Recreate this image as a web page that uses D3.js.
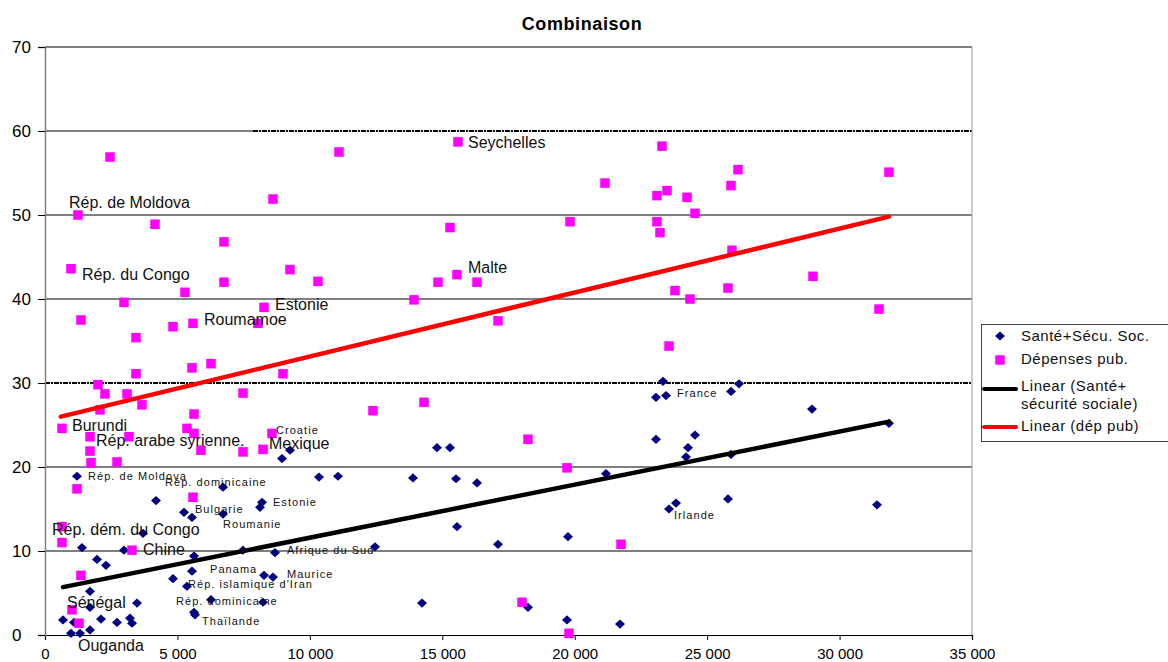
<!DOCTYPE html>
<html>
<head>
<meta charset="utf-8">
<script src="https://cdn.jsdelivr.net/npm/d3@7/dist/d3.min.js"></script>
<style>
  html, body { margin: 0; padding: 0; background: #fff; }
  svg { display: block; font-family: "Liberation Sans", Arial, sans-serif; }
</style>
</head>
<body>
<svg id="chart" width="1168" height="662"></svg>
<script>
// Santé + sécurité sociale: [PIB par habitant, %]
const santeSecu = [
  [1208,18.9],[4191,16.0],[5248,14.6],[5550,14.0],[6721,17.6],[6721,14.4],[3700,12.1],
  [1397,10.4],[2983,10.1],[1963,9.0],[2303,8.3],[1699,5.2],[3474,3.8],[1699,3.3],
  [680,1.8],[1095,1.5],[2114,1.9],[2718,1.5],[3209,2.0],[3285,1.4],[982,0.2],[1322,0.2],
  [1699,0.6],[5626,9.4],[5550,7.6],[4833,6.7],[5361,5.8],[6268,4.2],[5626,2.7],[5663,2.4],
  [7476,10.1],[8684,9.8],[8269,7.1],[8608,6.9],[8231,3.9],[8948,21.0],[9250,22.0],
  [10345,18.8],[11063,18.9],[8118,15.2],[8193,15.8],[12460,10.5],[13894,18.7],[14800,22.3],
  [15291,22.3],[15518,18.6],[16311,18.1],[15556,12.9],[17104,10.8],[19746,11.7],[21181,19.2],
  [23069,28.3],[23447,28.5],[23334,30.2],[23069,23.3],[24277,22.3],[24202,21.2],[24541,23.8],
  [25901,29.0],[26203,29.9],[25901,21.5],[25787,16.2],[23825,15.7],[23560,15.0],[14234,3.8],
  [18236,3.3],[19709,1.8],[21710,1.3],[28959,26.9],[31866,25.2],[31413,15.5]
];

// Dépenses publiques: [PIB par habitant, %]
const depensesPub = [
  [2454,56.9],[1246,50.0],[4153,48.9],[6758,46.8],[8608,51.9],[11100,57.5],[15593,58.7],
  [15291,48.5],[23296,58.2],[26165,55.4],[25901,53.5],[21143,53.8],[23107,52.3],[23485,52.9],
  [24240,52.1],[24541,50.2],[23107,49.2],[23220,47.9],[19822,49.2],[31866,55.1],[25938,45.8],
  [982,43.6],[5286,40.8],[6758,42.0],[9250,43.5],[10307,42.1],[14838,42.0],[15556,42.9],
  [16311,42.0],[13932,39.9],[8269,39.0],[8042,37.1],[5588,37.1],[4833,36.7],[2983,39.6],
  [1359,37.5],[3436,35.4],[23786,41.0],[24353,40.0],[23560,34.4],[25787,41.3],[28997,42.7],
  [31489,38.8],[17104,37.4],[3436,31.1],[5550,31.8],[6268,32.3],[8986,31.1],[2001,29.8],
  [2265,28.7],[3096,28.7],[3662,27.4],[7476,28.8],[12384,26.7],[14310,27.7],[2077,26.8],
  [642,24.6],[1699,23.6],[3172,23.6],[1699,21.9],[1737,20.5],[2718,20.6],[1208,17.4],
  [5361,24.6],[5626,26.3],[5626,24.0],[5890,22.0],[5588,16.4],[642,12.9],[642,11.0],
  [3285,10.1],[1359,7.1],[1019,3.0],[1284,1.4],[7476,21.8],[8231,22.1],[8571,24.0],
  [18236,23.3],[19709,19.9],[21748,10.8],[18010,3.9],[19784,0.2]
];

// Linear trends (start and end of each fitted line)
const trendSante = [[680,5.7],[31866,25.4]];
const trendDepenses = [[600,26.0],[31866,49.8]];

// Country annotations: [text, x, y] at the start of the text baseline
const labelsLarge = [
  ["Rép. de Moldova",906,50.8],["Rép. du Congo",1397,42.3],["Roumamoe",6003,36.9],
  ["Estonie",8684,38.7],["Seychelles",15971,58.0],["Malte",15971,43.1],["Burundi",1019,24.3],
  ["Rép. arabe syrienne.",1926,22.5],["Mexique",8457,22.1],["Rép. dém. du Congo",264,11.9],
  ["Chine",3700,9.5],["Sénégal",831,3.2],["Ouganda",1246,-1.9]
];
const labelsSmall = [
  ["Croatie",8722,23.9],["Rép. de Moldova",1624,18.5],["Rép. dominicaine",4531,17.7],
  ["Bulgarie",5663,14.5],["Estonie",8608,15.4],["Roumanie",6721,12.7],["Afrique du Sud",9137,9.6],
  ["Panama",6230,7.4],["Maurice",9137,6.8],["Rép. islamique d'Iran",5399,5.6],
  ["Rép. dominicaine",4946,3.6],["Thaïlande",5928,1.2],["France",23862,28.3],["Irlande",23749,13.8]
];

const xTicks = [0,5000,10000,15000,20000,25000,30000,35000];
const yTicks = [0,10,20,30,40,50,60,70];
const title = "Combinaison";
const legendItems = ["Santé+Sécu. Soc.","Dépenses pub.","Linear (Santé+","sécurité sociale)","Linear (dép pub)"];

const svg = d3.select("#chart");
const x = d3.scaleLinear().domain([0,35000]).range([45,972]);
const y = d3.scaleLinear().domain([0,70]).range([635,47]);
const fmt = v => v === 0 ? "0" : d3.format(",")(v).replace(/,/g," ");

// title
svg.append("text").attr("x",582).attr("y",30).attr("text-anchor","middle")
  .attr("font-size",18).attr("letter-spacing",0.6).attr("font-weight","bold").text(title);

// horizontal grid lines
const grid = svg.append("g");
yTicks.filter(v => v > 0 && v < 70).forEach(v => {
  if (v === 30) {
    grid.append("line").attr("x1",x(0)).attr("x2",x(35000)).attr("y1",y(v)).attr("y2",y(v))
      .attr("stroke","#000").attr("stroke-width",2).attr("stroke-dasharray","5,1,2,1");
  } else if (v === 60) {
    const split = 7850;
    grid.append("line").attr("x1",x(0)).attr("x2",x(split)).attr("y1",y(v)).attr("y2",y(v))
      .attr("stroke","#000").attr("stroke-width",1.2);
    grid.append("line").attr("x1",x(split)).attr("x2",x(35000)).attr("y1",y(v)).attr("y2",y(v))
      .attr("stroke","#000").attr("stroke-width",2).attr("stroke-dasharray","5,1,2,1");
  } else {
    grid.append("line").attr("x1",x(0)).attr("x2",x(35000)).attr("y1",y(v)).attr("y2",y(v))
      .attr("stroke","#000").attr("stroke-width",1.2);
  }
});
// top border of the plot area
svg.append("line").attr("x1",x(0)).attr("x2",x(35000)).attr("y1",y(70)).attr("y2",y(70))
  .attr("stroke","#555").attr("stroke-width",1.5);
// right border
svg.append("line").attr("x1",x(35000)).attr("x2",x(35000)).attr("y1",y(70)).attr("y2",y(0))
  .attr("stroke","#999").attr("stroke-width",1);

// axes
const xAxis = svg.append("g").attr("transform",`translate(0,${y(0)})`)
  .call(d3.axisBottom(x).tickValues(xTicks).tickFormat(fmt).tickSizeOuter(0).tickSize(5).tickPadding(8));
xAxis.select(".domain").attr("stroke","#000").attr("stroke-width",1.2);
xAxis.selectAll("line").attr("stroke","#000");
xAxis.selectAll("text").attr("font-size",15).attr("fill","#000")
  .attr("font-family","Liberation Sans, Arial, sans-serif");

const yAxis = svg.append("g").attr("transform",`translate(${x(0)},0)`)
  .call(d3.axisLeft(y).tickValues(yTicks).tickFormat(d3.format("d")).tickSizeOuter(0).tickSize(7));
yAxis.select(".domain").attr("stroke","#808080").attr("stroke-width",1.5);
yAxis.selectAll("line").attr("stroke","#000");
yAxis.selectAll("text").attr("font-size",17).attr("fill","#000")
  .attr("text-anchor","start").attr("x",12 - x(0))
  .attr("font-family","Liberation Sans, Arial, sans-serif");

// markers: navy diamonds and magenta squares
const diamondPath = "M0,-4.6L5,0L0,4.6L-5,0Z";
svg.append("g").selectAll("path").data(santeSecu).join("path")
  .attr("d",diamondPath).attr("transform",d => `translate(${x(d[0])},${y(d[1])})`)
  .attr("fill","#000080");
const sq = 9.5;
svg.append("g").selectAll("rect").data(depensesPub).join("rect")
  .attr("x",d => x(d[0]) - sq/2).attr("y",d => y(d[1]) - sq/2)
  .attr("width",sq).attr("height",sq).attr("fill","#FF00FF");

// trend lines
const line = d3.line().x(d => x(d[0])).y(d => y(d[1]));
svg.append("path").datum(trendSante).attr("d",line).attr("stroke","#000")
  .attr("stroke-width",4.5).attr("fill","none").attr("stroke-linecap","round");
svg.append("path").datum(trendDepenses).attr("d",line).attr("stroke","#FF0000")
  .attr("stroke-width",4.5).attr("fill","none").attr("stroke-linecap","round");

// annotations
svg.append("g").selectAll("text").data(labelsLarge).join("text")
  .attr("x",d => x(d[1])).attr("y",d => y(d[2])).attr("font-size",16).attr("fill","#111")
  .text(d => d[0]);
svg.append("g").selectAll("text").data(labelsSmall).join("text")
  .attr("x",d => x(d[1])).attr("y",d => y(d[2])).attr("font-size",11).attr("letter-spacing",1.05)
  .attr("fill","#111").text(d => d[0]);

// legend
const lg = svg.append("g");
lg.append("rect").attr("x",981.5).attr("y",324.5).attr("width",200).attr("height",117)
  .attr("fill","#fff").attr("stroke","#444").attr("stroke-width",1);
lg.append("path").attr("d",diamondPath).attr("transform","translate(1000,336)").attr("fill","#000080");
lg.append("rect").attr("x",1000 - sq/2).attr("y",360 - sq/2).attr("width",sq).attr("height",sq).attr("fill","#FF00FF");
lg.append("line").attr("x1",984).attr("x2",1016).attr("y1",389).attr("y2",389)
  .attr("stroke","#000").attr("stroke-width",4).attr("stroke-linecap","round");
lg.append("line").attr("x1",984).attr("x2",1016).attr("y1",427).attr("y2",427)
  .attr("stroke","#FF0000").attr("stroke-width",4).attr("stroke-linecap","round");
const lgY = [341,364,391,409,431];
legendItems.forEach((t,i) => {
  lg.append("text").attr("x",1021).attr("y",lgY[i]).attr("font-size",15)
    .attr("letter-spacing",0.5).attr("fill","#111").text(t);
});
</script>
</body>
</html>
